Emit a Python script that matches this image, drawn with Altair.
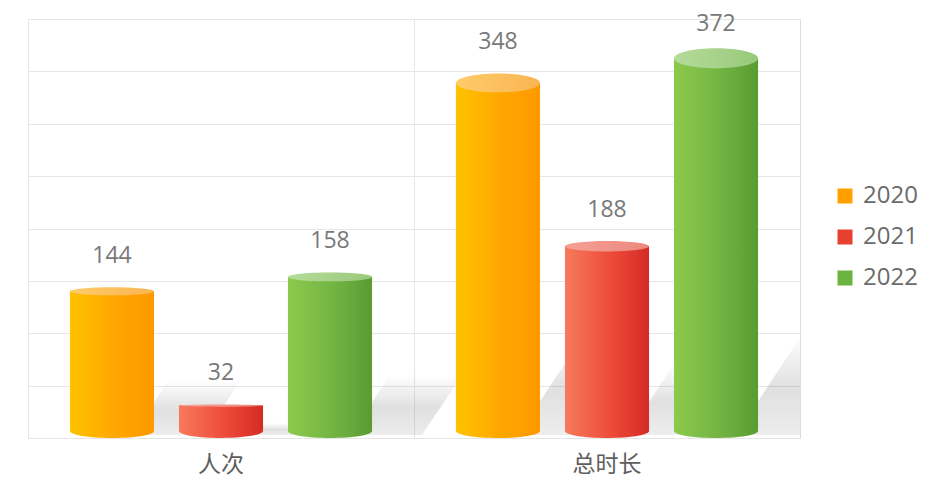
import altair as alt
import pandas as pd

groups = ["人次", "总时长"]
years = ["2020", "2021", "2022"]
values_2020 = [144, 348]
values_2021 = [32, 188]
values_2022 = [158, 372]

rows = []
for i, g in enumerate(groups):
    for y, vals in zip(years, [values_2020, values_2021, values_2022]):
        rows.append({"group": g, "year": y, "value": vals[i]})
df = pd.DataFrame(rows)

CJK = "Noto Sans CJK SC"
NUM = "Open Sans"
W, H, YMAX = 772, 419, 400
PX = H / YMAX  # pixels per unit

solid = {"2020": "#FFA000", "2021": "#E8402E", "2022": "#6DB33F"}
side = {
    "2020": [("#FFC200", 0), ("#FFA600", 0.55), ("#FF9900", 1)],
    "2021": [("#F67A5C", 0), ("#EE4B3A", 0.55), ("#D42B25", 1)],
    "2022": [("#8DC94C", 0), ("#72B443", 0.55), ("#5A9B32", 1)],
}
top = {
    "2020": [("#FFCB6A", 0), ("#F9B552", 1)],
    "2021": [("#F7A096", 0), ("#EC887E", 1)],
    "2022": [("#B5DC9A", 0), ("#98C97A", 1)],
}


def grad(stops, vertical=False):
    return alt.Gradient(
        gradient="linear", x1=0, x2=0 if vertical else 1, y1=0, y2=1 if vertical else 0,
        stops=[alt.GradientStop(color=c, offset=o) for c, o in stops],
    )


src = alt.Chart(df).transform_calculate(
    ry=f"1 + 0.025 * ({PX} * datum.value - 28)",
    ly=f"min(datum.value + 31 / {PX}, {YMAX} * (1 - 5 / {H}))",
).transform_calculate(
    vtop=f"datum.value - datum.ry / {PX}",
    cap="'M -1 0 A 1 ' + format(datum.ry / 42, '.4f') + ' 0 1 1 1 0 A 1 ' + format(datum.ry / 42, '.4f') + ' 0 1 1 -1 0 Z'",
    sh="min(1.05, max(0.15, datum.value / 250))",
).transform_calculate(
    shadow="'M 0.2 -0.03 L 0.92 -0.03 L ' + format(0.92 + datum.sh / 1.57, '.4f') + ' -' + format(datum.sh, '.4f') + ' L ' + format(0.2 + datum.sh / 1.57, '.4f') + ' -' + format(datum.sh, '.4f') + ' Z'",
)

x_enc = alt.X("group:N", sort=groups,
              scale=alt.Scale(paddingInner=0, paddingOuter=0),
              axis=alt.Axis(title=None, labelAngle=0, labelFontSize=23, labelColor="#5E5E5E",
                            labelFont=CJK, labelPadding=15, ticks=False, domain=False,
                            grid=True, bandPosition=0, gridColor="#E6E6E6"))
xo_enc = alt.XOffset("year:N", sort=years,
                     scale=alt.Scale(domain=years, paddingInner=0.229, paddingOuter=0.385))
xs = alt.X("group:N", sort=groups)
xos = alt.XOffset("year:N", sort=years)
y_enc = alt.Y("vtop:Q", scale=alt.Scale(domain=[0, YMAX]),
              axis=alt.Axis(title=None, labels=False, ticks=False, domain=False,
                            values=list(range(0, YMAX + 1, 50)), grid=True, gridColor="#E6E6E6"))

RB = 7  # bottom ellipse half-height
ELL_B = f"M -1 0 A 1 {RB/42:.4f} 0 1 1 1 0 A 1 {RB/42:.4f} 0 1 1 -1 0 Z"

base = src.mark_bar(y2Offset=-RB).encode(
    x=x_enc, xOffset=xo_enc, y=y_enc, y2=alt.datum(0),
    color=alt.Color("year:N", sort=years,
                    scale=alt.Scale(domain=years, range=[solid[y] for y in years]),
                    legend=alt.Legend(title=None, orient="none", legendX=805, legendY=165,
                                      symbolType="square", symbolSize=225, labelFontSize=24,
                                      labelColor="#6B6B6B", labelFont=NUM, labelOffset=6,
                                      rowPadding=17, padding=0, symbolStrokeWidth=0)),
)

shadow_grad = grad([("rgba(0,0,0,0)", 0), ("rgba(0,0,0,0.12)", 0.55), ("rgba(0,0,0,0.07)", 1)], vertical=True)
shadows = src.mark_point(filled=True, size=40000, opacity=1, fill=shadow_grad,
                         strokeWidth=0, clip=True).encode(
    x=xs, xOffset=xos, y=alt.datum(0),
    shape=alt.Shape("shadow:N", scale=None, legend=None))

layers = [base, shadows]
for y in years:
    d = src.transform_filter(alt.datum.year == y)
    layers.append(d.mark_point(shape=ELL_B, size=84 * 84, filled=True, opacity=1,
                               fill=grad(side[y]), strokeWidth=0, yOffset=-RB).encode(
        x=xs, xOffset=xos, y=alt.datum(0)))
    layers.append(d.mark_bar(y2Offset=-RB, fill=grad(side[y])).encode(
        x=xs, xOffset=xos, y="vtop:Q", y2=alt.datum(0)))
    layers.append(d.mark_point(filled=True, size=84 * 84, opacity=1,
                               fill=grad(top[y]), strokeWidth=0).encode(
        x=xs, xOffset=xos, y="vtop:Q",
        shape=alt.Shape("cap:N", scale=None, legend=None)))

labels = src.mark_text(fontSize=23, color="#787878", font=NUM,
                       baseline="middle").encode(
    x=xs, xOffset=xos, y="ly:Q", text="value:Q")
layers.append(labels)

chart = alt.layer(*layers).properties(
    width=W, height=H,
    autosize=alt.AutoSizeParams(type="none"),
    padding={"left": 20, "top": 11, "right": 131, "bottom": 39},
).configure_view(stroke="#E6E6E6", strokeWidth=1).configure(background="white")

chart.save("out.html", embed_options={"renderer": "svg", "actions": False})
